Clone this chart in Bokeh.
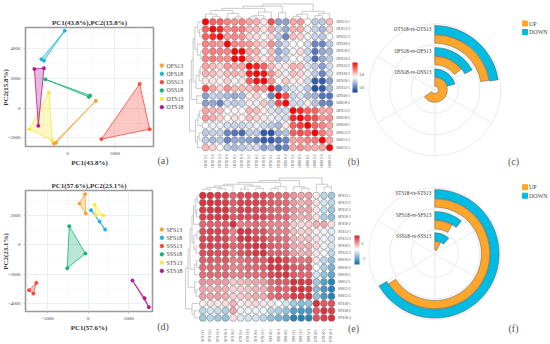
from math import pi, radians
import numpy as np
from bokeh.core.properties import value
from bokeh.embed import file_html
from bokeh.layouts import column, row
from bokeh.models import ColorBar, ColumnDataSource, FixedTicker, LinearColorMapper, Range1d
from bokeh.plotting import figure
from bokeh.resources import INLINE

SERIF = "Liberation Serif"

# ---------- data ----------
a_title = "PC1(43.8%),PC2(15.8%)"
a_xlabel = "PC1(43.8%)"
a_ylabel = "PC2(15.8%)"
a_groups = ["OFS13", "OFS18", "OSS13", "OSS18", "OTS13", "OTS18"]
a_x = [[2986, -1180, -1424], [-278, -2465, -2743], [3576, 7604, 8646],
       [-2326, 2396, 2257], [-3993, -1944, -1597], [-3472, -2465, -3056]]
a_y = [[493, -2330, -2374], [5218, 3203, 3292], [-2083, 1635, -1411],
       [1948, 851, 761], [-1411, 1053, -2172], [2643, 2687, -1187]]
a_xticks = [0, 5000]
a_yticks = [-2000, 0, 2000, 4000]

d_title = "PC1(57.6%),PC2(23.1%)"
d_xlabel = "PC1(57.6%)"
d_ylabel = "PC2(23.1%)"
d_groups = ["SFS13", "SFS18", "SSS13", "SSS18", "STS13", "STS18"]
d_x = [[-364, -1053, -283], [364, 1417, 2105], [-6356, -7247, -6721],
       [-2308, -324, -2551], [810, 931, 1903], [5466, 6964, 7490]]
d_y = [[3427, 2796, 2119], [2345, 1578, 1037], [-2570, -3066, -3292],
       [1263, -586, -1578], [2706, 2029, 1984], [-2413, -3608, -4217]]
d_xticks = [-5000, 0, 5000]
d_yticks = [-4000, -2000, 0, 2000]

group_colors = ["#F9A12F", "#19B5DC", "#F9473A", "#15B475", "#F7E93A", "#B5168F"]

b_labels = ["OFS13-1", "OFS13-3", "OTS13-3", "OTS18-3", "OFS18-2", "OFS18-3", "OTS13-2", "OTS18-2", "OFS18-1",
            "OTS13-1", "OTS18-1", "OSS18-3", "OFS13-2", "OSS18-2", "OSS18-1", "OSS13-2", "OSS13-3", "OSS13-1"]
b_values = [
    [1.0, .90, .90, .87, .86, .87, .84, .83, .78, .92, .65, .65, .84, .85, .76, .70, .70, .82],
    [.90, 1.0, .95, .86, .88, .88, .82, .82, .78, .84, .71, .66, .83, .83, .74, .71, .68, .80],
    [.90, .95, 1.0, .85, .87, .86, .80, .79, .77, .80, .70, .62, .82, .80, .74, .71, .70, .76],
    [.87, .86, .85, 1.0, .87, .86, .85, .82, .80, .86, .68, .72, .76, .76, .72, .62, .62, .70],
    [.86, .88, .87, .87, 1.0, .98, .84, .83, .75, .82, .66, .70, .77, .79, .71, .60, .66, .68],
    [.87, .88, .86, .86, .98, 1.0, .84, .81, .78, .82, .68, .71, .76, .77, .71, .59, .66, .70],
    [.84, .82, .80, .85, .84, .84, 1.0, .96, .90, .82, .78, .78, .83, .82, .73, .70, .65, .72],
    [.83, .82, .79, .82, .83, .81, .96, 1.0, .97, .86, .80, .74, .82, .80, .74, .70, .62, .72],
    [.78, .78, .77, .80, .75, .78, .90, .97, 1.0, .85, .76, .81, .78, .78, .72, .57, .57, .65],
    [.92, .84, .80, .86, .82, .82, .82, .86, .85, 1.0, .62, .70, .73, .74, .70, .56, .57, .68],
    [.65, .71, .70, .68, .66, .68, .78, .80, .76, .62, 1.0, .92, .71, .73, .68, .67, .60, .60],
    [.65, .66, .62, .72, .70, .71, .78, .74, .81, .70, .92, 1.0, .72, .72, .78, .69, .62, .62],
    [.84, .83, .82, .76, .77, .76, .83, .82, .78, .73, .71, .72, 1.0, .95, .90, .90, .84, .84],
    [.85, .83, .80, .76, .79, .77, .82, .80, .78, .74, .73, .72, .95, 1.0, .93, .92, .85, .86],
    [.76, .74, .74, .72, .71, .71, .73, .74, .72, .70, .68, .78, .90, .93, 1.0, .90, .87, .84],
    [.70, .71, .71, .62, .60, .59, .70, .70, .57, .56, .67, .69, .90, .92, .90, 1.0, .88, .83],
    [.70, .68, .70, .62, .66, .66, .65, .62, .57, .57, .60, .62, .84, .85, .87, .88, 1.0, .84],
    [.82, .80, .76, .70, .68, .70, .72, .72, .65, .68, .60, .62, .84, .86, .84, .83, .84, 1.0],
]
b_tree = (1.0, (0.85, (0.7, (0.55, (0.3, 0, (0.15, 1, 2)), (0.35, 3, (0.1, 4, 5))),
                       (0.45, (0.2, (0.1, 6, 7), 8), 9)), (0.4, 10, 11)),
          (0.5, (0.3, (0.15, 12, 13), 14), (0.35, (0.2, 15, 16), 17)))
b_ticks = [.6, .7, .8, .9]

e_labels = ["SFS13-1", "SFS13-2", "SFS13-3", "SFS18-3", "SFS18-2", "STS13-1", "STS13-3", "SFS18-1", "STS13-2",
            "SSS18-2", "SSS18-3", "SSS18-1", "SSS13-1", "SSS13-2", "SSS13-3", "STS18-1", "STS18-2", "STS18-3"]
e_values = [
    [1, .95, .9, .85, .55, .75, .8, .8, .75, .6, .5, .45, .15, 0, .05, -.6, -1.3, -1.5],
    [.95, 1, .95, .9, .6, .85, .85, .85, .8, .65, .55, .5, .1, -.1, 0, -.5, -1.1, -1.3],
    [.9, .95, 1, .95, .6, .85, .85, .8, .75, .6, .5, .5, .15, 0, .05, -.55, -1.2, -1.5],
    [.85, .9, .95, 1, .65, .8, .8, .85, .8, .65, .55, .55, .05, -.1, -.05, -.5, -1.4, -1.6],
    [.55, .6, .6, .65, 1, .3, .4, .55, .4, .3, .25, .3, -.3, -.4, -.35, -.1, 0, -.5],
    [.75, .85, .85, .8, .3, 1, .95, .7, .7, .4, .35, .35, -.2, -.35, -.3, -.6, -.9, -1],
    [.8, .85, .85, .8, .4, .95, 1, .85, .8, .55, .5, .45, -.1, -.25, -.2, -.5, -.9, -1.1],
    [.8, .85, .8, .85, .55, .7, .85, 1, .95, .65, .55, .5, 0, -.1, -.05, -.4, -.9, -1.1],
    [.75, .8, .75, .8, .4, .7, .8, .95, 1, .6, .6, .5, .05, -.1, -.05, -.55, -.85, -1.3],
    [.6, .65, .6, .65, .3, .4, .55, .65, .6, 1, .95, .8, .5, .4, .45, -.55, -1.3, -1.6],
    [.5, .55, .5, .55, .25, .35, .5, .55, .6, .95, 1, .9, .65, .6, .6, -.8, -1.4, -1.8],
    [.45, .5, .5, .55, .3, .35, .45, .5, .5, .8, .9, 1, .65, .55, .55, -1.1, -1.6, -2],
    [.15, .1, .15, .05, -.3, -.2, -.1, 0, .05, .5, .65, .65, 1, .95, .9, -1.5, -2.1, -2.5],
    [0, -.1, 0, -.1, -.4, -.35, -.25, -.1, -.1, .4, .6, .55, .95, 1, .9, -1.7, -2.2, -2.5],
    [.05, 0, .05, -.05, -.35, -.3, -.2, -.05, -.05, .45, .6, .55, .9, .9, 1, -1.6, -2.2, -2.5],
    [-.6, -.5, -.55, -.5, -.1, -.6, -.5, -.4, -.55, -.55, -.8, -1.1, -1.5, -1.7, -1.6, 1, .65, .7],
    [-1.3, -1.1, -1.2, -1.4, 0, -.9, -.9, -.9, -.85, -1.3, -1.4, -1.6, -2.1, -2.2, -2.2, .65, 1, .85],
    [-1.5, -1.3, -1.5, -1.6, -.5, -1, -1.1, -1.1, -1.3, -1.6, -1.8, -2, -2.5, -2.5, -2.5, .7, .85, 1],
]
e_tree = (1.0, (0.8, (0.65, (0.5, (0.38, (0.25, (0.1, 0, 1), (0.15, 2, 3)), 4),
                             (0.35, (0.12, 5, 6), (0.18, 7, 8))),
                      (0.3, (0.15, 9, 10), 11)),
                (0.3, 12, (0.18, 13, 14))),
          (0.5, 15, (0.3, 16, 17)))
e_ticks = [-2, -1, 0, 1]

c_pairs = ["OSS18-vs-OSS13", "OFS18-vs-OFS13", "OTS18-vs-OTS13"]
c_up = [236, 52, 80]
c_down = [74, 62, 81]
f_pairs = ["SSS18-vs-SSS13", "SFS18-vs-SFS13", "STS18-vs-STS13"]
f_up = [27, 31, 237]
f_down = [42, 39, 240]
polar_spokes = [0, 60, 120, 180, 240, 300]
polar_rings = [23.5, 45, 66]
band_inner = [3.7, 25, 46.7]
band_mid = [12.5, 33.5, 55]
band_outer = [21, 42.3, 64.3]
legend_names = ["UP", "DOWN"]
bar_colors = ["#FFA62B", "#00BCE3"]


# ---------- helpers ----------
def blank(box):
    """A figure whose frame fills the page rectangle box; its data units are page pixels, y growing downward."""
    x0, y0, x1, y1 = box
    p = figure(width=x1 - x0, height=y1 - y0, x_range=Range1d(x0, x1), y_range=Range1d(y1, y0),
               output_backend="svg", toolbar_location=None, outline_line_color=None,
               background_fill_color="white", border_fill_color="white", frame_align=False)
    p.min_border_left = p.min_border_right = p.min_border_top = p.min_border_bottom = 0
    p.axis.visible = False
    p.grid.visible = False
    return p


def words(p, x, y, text, size, color="#444444", align="left", **kw):
    p.text(x=x, y=y, text=text, text_font=value(SERIF), text_font_size=size, text_color=color,
           text_align=align, text_baseline="middle", **kw)


def pca(title, xlabel, groups, xs, ys, xticks, yticks, xrange, yrange, frame, fig, overlap):
    left, top, right, bottom = frame
    fl, ft, fr, fb = fig
    p = figure(width=fr - fl, height=fb - ft, x_range=Range1d(*xrange), y_range=Range1d(*yrange),
               output_backend="svg", toolbar_location=None, min_border_left=left - fl,
               min_border_right=fr - right, min_border_top=top - ft, min_border_bottom=fb - bottom,
               background_fill_color="white", border_fill_color=None, frame_align=False,
               margin=(0, 0, 0, -overlap))
    p.title.text = title
    p.title.text_font = SERIF
    p.title.text_font_size = "7px"
    p.title.text_font_style = "bold"
    p.title.text_color = "#333333"
    p.title.align = "center"
    p.title.offset = -2
    p.title.standoff = 2
    p.outline_line_color = "#9a9a9a"
    p.outline_line_width = 1.6
    for ax, ticks in ((p.xaxis[0], xticks), (p.yaxis[0], yticks)):
        step = 5000 if ax is p.xaxis[0] else 2000
        ax.ticker = FixedTicker(ticks=ticks, minor_ticks=[t + step / 2 for t in [ticks[0] - step] + ticks])
        ax.major_label_text_font = SERIF
        ax.major_label_text_font_size = "5px"
        ax.major_label_text_color = "#444444"
        ax.major_label_standoff = 1
        ax.axis_line_color = None
        ax.major_tick_line_color = "#999999"
        ax.major_tick_line_width = 0.5
        ax.major_tick_in = 0
        ax.major_tick_out = 2
        ax.minor_tick_line_color = None
    ax = p.xaxis[0]
    ax.axis_label = xlabel
    ax.axis_label_text_font = SERIF
    ax.axis_label_text_font_size = "7px"
    ax.axis_label_text_font_style = "bold"
    ax.axis_label_text_color = "#333333"
    ax.axis_label_standoff = 1
    for g in (p.xgrid[0], p.ygrid[0]):
        g.grid_line_color = "#e4ecee"
        g.grid_line_width = 0.8
        g.minor_grid_line_color = "#eef3f4"
        g.minor_grid_line_width = 0.5
    for x, y, col in zip(xs, ys, group_colors):
        src = ColumnDataSource(dict(x=x, y=y))
        p.patch("x", "y", source=src, fill_color=col, fill_alpha=0.3, line_color=col, line_width=0.8)
        p.scatter("x", "y", source=src, size=3.0, color=col)
    return p


def y_strip(label, box, cy):
    p = blank(box)
    words(p, [5], [cy], [label], "7px", "#333333", "center", angle=pi / 2, text_font_style="bold")
    return p


def key_strip(groups, box, y0, step, tag, tag_y):
    p = blank(box)
    ys = [y0 + step * i for i in range(len(groups))]
    p.scatter(x=[161.3] * len(ys), y=ys, size=3.4, color=group_colors)
    words(p, [166] * len(ys), ys, groups, "5.9px")
    words(p, [162.5], [tag_y], [tag], "10px", "#555555", "center")
    return p


def tree_segments(node):
    if isinstance(node, int):
        return node, 0.0, []
    h, l, r = node
    pl, hl, sl = tree_segments(l)
    pr, hr, sr = tree_segments(r)
    seg = [([pl, pl, pr, pr], [hl, h, h, hr])]
    return (pl + pr) / 2, h, sl + sr + seg


def ramp(stops, n=256):
    pos = [s[0] for s in stops]
    rgb = np.array([[int(s[1][i:i + 2], 16) for i in (1, 3, 5)] for s in stops], float)
    t = np.linspace(pos[0], pos[-1], n)
    chan = [np.interp(t, pos, rgb[:, i]) for i in range(3)]
    return ["#%02x%02x%02x" % (int(r), int(g), int(b)) for r, g, b in zip(*chan)]


def heat(labels, values, tree, mapper, ticks, x0, dx, y0, dy, box, size, tree_top, tree_left, label_x, label_y,
         bar, tag, tag_xy):
    p = blank(box)
    n = len(labels)
    xpos = [x0 + dx * i for i in range(n)]
    ypos = [y0 + dy * i for i in range(n)]
    # dendrograms
    mx, my = [], []
    for pos, hs in tree_segments(tree)[2]:
        mx.append([x0 + dx * q for q in pos])
        my.append([tree_top[0] + h * (tree_top[1] - tree_top[0]) for h in hs])
        mx.append([tree_left[0] + h * (tree_left[1] - tree_left[0]) for h in hs])
        my.append([y0 + dy * q for q in pos])
    p.multi_line(mx, my, line_color="#bdbdbd", line_width=0.8)
    # cells
    cx, cy, cv = [], [], []
    for j, r in enumerate(values):
        for i, v in enumerate(r):
            cx.append(xpos[i])
            cy.append(ypos[j])
            cv.append(v)
    p.scatter("x", "y", source=ColumnDataSource(dict(x=cx, y=cy, v=cv)), size=size,
              fill_color={"field": "v", "transform": mapper}, line_color="#777777", line_width=0.5)
    words(p, [label_x] * n, ypos, labels, "3.6px")
    words(p, xpos, [label_y] * n, labels, "3.6px", align="right", angle=pi / 2)
    bx, by, bh = bar
    cb = ColorBar(color_mapper=mapper, width=5, height=bh, location=(bx - box[0], box[3] - by - bh), padding=0, margin=0,
                  ticker=FixedTicker(ticks=ticks), major_label_text_font=SERIF, major_label_text_font_size="3.6px",
                  major_label_text_color="#444444", major_tick_line_color=None, background_fill_alpha=0,
                  bar_line_color=None, border_line_color=None, label_standoff=2)
    p.add_layout(cb, "center")
    words(p, [tag_xy[0]], [tag_xy[1]], [tag], "10px", "#555555", "center")
    return p


def polar(pairs, up, down, box, cx, cy, tag, tag_y, legend_y):
    x0, y0, x1, y1 = box
    p = figure(width=x1 - x0, height=y1 - y0, x_range=Range1d(x0 - cx, x1 - cx), y_range=Range1d(cy - y1, cy - y0),
               output_backend="svg", toolbar_location=None, outline_line_color=None,
               background_fill_color="white", border_fill_color="white", frame_align=False)
    p.axis.visible = False
    p.grid.visible = False
    p.min_border_left = p.min_border_right = p.min_border_top = p.min_border_bottom = 0
    p.circle(x=[0] * 3, y=[0] * 3, radius=polar_rings, fill_color=None, line_color="#e8e8e8", line_width=0.9)
    sx = [[0, polar_rings[-1] * np.sin(radians(a))] for a in polar_spokes]
    sy = [[0, polar_rings[-1] * np.cos(radians(a))] for a in polar_spokes]
    p.multi_line(sx, sy, line_color="#e8e8e8", line_width=0.9)
    for vals, inner, outer, col in ((up, band_inner, band_mid, bar_colors[0]),
                                    (down, [m + .5 for m in band_mid], band_outer, bar_colors[1])):
        src = ColumnDataSource(dict(i=inner, o=outer, end=[pi / 2 - radians(v) for v in vals],
                                    start=[pi / 2] * 3))
        p.annular_wedge(x=0, y=0, inner_radius="i", outer_radius="o", start_angle="start", end_angle="end",
                        direction="clock", source=src, fill_color=col, line_color="#555555", line_width=0.5)
    words(p, [-3.6] * 3, [o - 3 for o in band_outer], pairs, "5.1px", "#333333", "right")
    ly = [cy - legend_y, cy - legend_y - 8.5]
    p.scatter(x=[524.5 - cx] * 2, y=ly, marker="square", size=5, color=bar_colors)
    words(p, [528.5 - cx] * 2, ly, legend_names, "6px")
    words(p, [513 - cx], [cy - tag_y], [tag], "10px", "#555555", "center")
    return p


# ---------- panels ----------
sa = y_strip(a_ylabel, (0, 0, 9, 172), 87)
pa = pca(a_title, a_xlabel, a_groups, a_x, a_y, a_xticks, a_yticks, (-4406, 9060), (-2580, 5434),
         (24, 27, 153, 146), (4, 0, 155, 172), 5)
ka = key_strip(a_groups, (155, 0, 184, 172), 65, 8.33, "(a)", 160)

sd = y_strip(d_ylabel, (0, 172, 9, 344), 251)
pd_ = pca(d_title, d_xlabel, d_groups, d_x, d_y, d_xticks, d_yticks, (-7692, 7935), (-4509, 3675),
          (24, 190, 152, 311), (4, 172, 155, 344), 5)
kd = key_strip(d_groups, (155, 172, 184, 344), 229, 8.27, "(d)", 326)

b_map = LinearColorMapper(palette=ramp([(0.53, "#0a3a9e"), (0.76, "#ffffff"), (0.985, "#ff0000")]), low=0.53, high=0.985)
e_map = LinearColorMapper(palette=ramp([(-2.8, "#0070aa"), (-0.75, "#ffffff"), (1.14, "#d6202f")]), low=-2.8, high=1.14)

pb = heat(b_labels, b_values, b_tree, b_map, b_ticks, 205, 7.3, 21.3, 7.4, (184, 0, 368, 172),
          6.8, (18, 3.5), (201, 189), 336, 154, (352, 62, 30), "(b)", (353, 161))
pe = heat(e_labels, e_values, e_tree, e_map, e_ticks, 202.3, 7.57, 195, 7.2, (184, 172, 368, 344),
          6.9, (190, 177.5), (198, 185), 337.5, 328.7, (354, 235, 29), "(e)", (353, 328))

pc = polar(c_pairs, c_up, c_down, (368, 0, 550, 172), 434.3, 89.3, "(c)", 161, 23)
pf = polar(f_pairs, f_up, f_down, (368, 172, 550, 344), 434.3, 253.3, "(f)", 328, 186.7)

root = column(row(sa, pa, ka, pb, pc, spacing=0), row(sd, pd_, kd, pe, pf, spacing=0), spacing=0)
open("out.html", "w").write(file_html(root, INLINE))
